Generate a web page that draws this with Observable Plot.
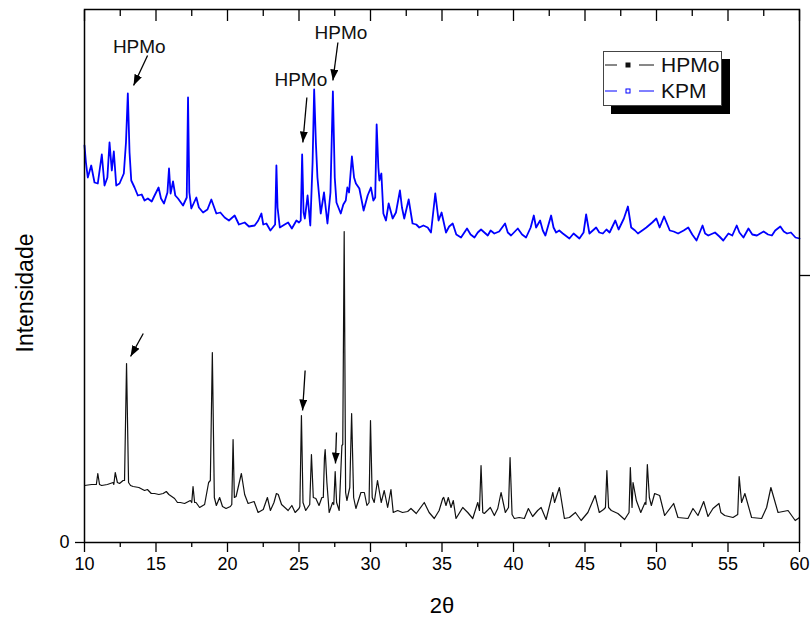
<!DOCTYPE html>
<html><head><meta charset="utf-8">
<script src="https://cdn.jsdelivr.net/npm/d3@7"></script>
<script src="https://cdn.jsdelivr.net/npm/@observablehq/plot@0.6"></script>
<style>
html,body{margin:0;padding:0;background:#fff;}
#wrap{position:relative;width:810px;height:622px;font-family:"Liberation Sans",Arial,sans-serif;}
#legend{position:absolute;left:603px;top:51px;width:119px;height:55px;border:1px solid #444;background:#fff;box-shadow:8px 8px 0 #000;box-sizing:border-box;}
.row{position:absolute;left:0;height:26px;display:flex;align-items:center;font-size:21px;color:#111;white-space:nowrap;}
.row svg{margin-right:2px;}
</style></head>
<body><div id="wrap"><div id="chart"></div><div id="legend"></div></div>
<script>
// ---- data (2θ in degrees, intensity in arbitrary units) ----
const hpmoX = [10.0,10.5,10.83,10.93,11.05,11.2,11.6,12.0,12.05,12.15,12.3,12.45,12.7,12.8,12.94,13.08,13.22,13.4,13.8,14.2,14.4,14.67,14.9,15.2,15.5,15.72,15.9,16.1,16.3,16.5,16.7,17.0,17.4,17.5,17.59,17.7,17.8,18.05,18.4,18.68,18.8,18.94,19.08,19.22,19.45,19.65,19.9,20.2,20.3,20.39,20.48,20.6,20.97,21.2,21.44,21.86,22.14,22.5,22.79,23.0,23.25,23.42,23.55,23.78,24.24,24.5,24.73,25.0,25.06,25.17,25.28,25.47,25.75,25.87,26.0,26.18,26.4,26.6,26.7,26.78,26.83,26.95,27.11,27.35,27.43,27.53,27.63,27.81,28.0,28.06,28.16,28.26,28.35,28.55,28.68,28.82,28.98,29.33,29.57,29.75,29.9,30.0,30.12,30.26,30.49,30.75,30.96,31.2,31.43,31.59,31.9,32.24,32.6,32.83,33.2,33.76,34.1,34.46,34.8,35.05,35.12,35.28,35.44,35.63,35.79,35.98,36.45,36.8,37.15,37.5,37.62,37.73,37.85,37.96,38.38,38.66,38.9,39.13,39.43,39.65,39.76,39.9,40.06,40.4,40.76,41.04,41.34,41.69,41.93,42.28,42.75,42.87,43.21,43.56,43.91,44.33,44.73,45.2,45.71,46.0,46.3,46.43,46.53,46.65,46.84,47.3,47.77,48.08,48.17,48.29,48.36,48.59,48.9,49.2,49.26,49.36,49.5,49.64,49.87,50.22,50.57,51.2,51.5,52.2,52.55,52.9,53.3,53.6,53.95,54.37,54.5,54.77,55.35,55.68,55.78,55.95,56.18,56.65,57.35,57.7,58.0,58.2,58.5,59.2,59.7,60.0];
const hpmoY = [57,58,58,69,58,57,58,60,58,70,60,59,62,62,179,60,57,56,55,52,53,49,49,48,49,51,48,46,44,40,40,39,42,40,56,40,40,35,38,60,62,190,45,37,45,36,34,36,38,103,45,46,69,48,39,41,30,33,45,32,40,49,48,38,32,37,30,34,36,127,40,32,38,88,45,44,37,45,45,85,93,60,30,40,38,71,40,32,97,98,311,50,42,55,129,45,34,50,50,37,40,122,45,40,62,40,52,35,53,30,32,30,31,34,29,40,30,24,32,44,45,37,45,35,42,24,35,30,24,40,32,77,30,29,35,27,34,50,30,35,85,28,24,25,24,34,26,32,35,23,50,40,55,24,25,30,22,30,47,30,33,35,72,35,32,29,23,30,75,35,60,42,30,40,38,78,45,37,49,47,27,39,25,24,34,27,41,26,34,39,30,27,25,28,66,40,49,25,24,35,55,45,30,32,22,25];

const kpmX = [10.0,10.1,10.23,10.47,10.7,10.93,11.21,11.4,11.6,11.75,11.91,12.05,12.22,12.45,12.75,12.9,13.03,13.15,13.27,13.5,13.73,14.0,14.2,14.43,14.7,14.9,15.18,15.35,15.56,15.8,15.91,16.02,16.19,16.35,16.54,16.89,17.15,17.24,17.33,17.47,17.82,18.0,18.29,18.6,18.87,19.22,19.5,19.8,20.1,20.5,20.8,21.2,21.5,21.9,22.15,22.37,22.5,22.72,23.0,23.33,23.42,23.5,23.66,24.0,24.24,24.5,24.82,25.0,25.12,25.22,25.32,25.41,25.6,25.79,25.95,26.06,26.18,26.29,26.52,26.75,26.99,27.2,27.37,27.5,27.62,27.92,28.1,28.27,28.38,28.5,28.7,28.85,28.98,29.22,29.52,29.8,30.03,30.2,30.33,30.43,30.55,30.62,30.76,30.9,31.08,31.27,31.55,31.78,32.06,32.2,32.36,32.67,32.94,33.2,33.41,33.7,34.0,34.23,34.53,34.76,34.97,35.28,35.5,35.75,36.0,36.33,36.75,37.0,37.27,37.5,37.73,38.2,38.4,38.66,39.0,39.41,39.6,39.83,40.3,40.6,40.88,41.2,41.42,41.58,41.86,42.05,42.23,42.63,42.8,42.98,43.2,43.45,43.91,44.2,44.61,44.9,45.08,45.31,45.78,46.0,46.25,46.5,46.72,47.12,47.35,47.72,48.0,48.23,48.5,48.7,49.0,49.29,49.7,49.99,50.22,50.53,50.93,51.2,51.51,51.9,52.22,52.5,52.8,53.22,53.4,53.62,54.09,54.4,54.67,55.03,55.3,55.61,55.8,56.08,56.43,56.7,57.02,57.49,57.8,58.07,58.3,58.66,58.9,59.13,59.4,59.72,60.0];
const kpmY = [397,380,365,377,360,359,388,357,365,400,372,391,357,359,369,400,449,390,362,355,347,348,342,344,341,347,355,344,339,350,374,349,361,347,344,337,345,445,350,334,345,335,330,333,343,329,330,325,322,327,318,320,316,317,322,329,318,319,312,318,377,335,315,318,320,314,322,320,322,388,330,324,347,317,380,453,400,365,329,350,319,350,451,365,340,329,338,342,355,350,386,365,359,354,332,347,355,342,345,418,375,362,369,329,322,339,324,330,352,335,324,343,319,318,315,317,315,310,349,322,330,310,316,319,308,305,314,308,305,310,313,307,312,309,311,319,310,307,314,308,305,315,327,315,322,312,307,327,315,310,312,309,304,309,304,310,328,309,315,310,309,313,310,322,313,324,336,315,312,309,312,315,320,324,315,326,312,311,309,312,315,308,302,317,309,307,310,306,302,309,307,317,310,305,314,308,307,311,308,307,312,316,311,309,310,305,304];

const seriesNames = ["HPMo","KPM"];
const seriesColors = ["#111111","#0000ff"];

const majorTicks = [10,15,20,25,30,35,40,45,50,55,60];
const minorTicks = [12.5,17.5,22.5,27.5,32.5,37.5,42.5,47.5,52.5,57.5];
const leftTicks = [0];
const rightTicks = [267];

// annotation labels and arrows (data coordinates)
const annLabel = ["HPMo","HPMo","HPMo"];
const annX = [13.83,27.93,25.13];
const annY = [496,510,463];
const arrX1 = [14.41,27.72,25.55,14.11,25.43,27.62];
const arrY1 = [487,500,445,209,172,110];
const arrX2 = [13.43,27.37,25.27,13.22,25.25,27.55];
const arrY2 = [457,462,400,186,132,79];

// ---- build ----
const hpmo = hpmoX.map((x,i)=>({x, y:hpmoY[i]}));
const kpm = kpmX.map((x,i)=>({x, y:kpmY[i]}));
const annotations = annLabel.map((t,i)=>({t, x:annX[i], y:annY[i]}));
const arrows = arrX1.map((x1,i)=>({x1, y1:arrY1[i], x2:arrX2[i], y2:arrY2[i]}));

const plot = Plot.plot({
  width:810, height:622,
  marginLeft:84, marginRight:11, marginTop:9, marginBottom:80,
  style:{fontFamily:"'Liberation Sans', Arial, sans-serif", fontSize:"18px", color:"#000"},
  x:{domain:[10,60]},
  y:{domain:[0,533]},
  marks:[
    Plot.line(kpm,{x:"x",y:"y",stroke:seriesColors[1],strokeWidth:1.8}),
    Plot.line(hpmo,{x:"x",y:"y",stroke:seriesColors[0],strokeWidth:1.2}),
    Plot.frame({stroke:"#000", strokeWidth:1.5}),
    Plot.axisX({ticks:majorTicks, tickSize:10, tickPadding:5, fontSize:18, label:null, strokeWidth:1.3}),
    Plot.axisX({ticks:minorTicks, tickSize:5, tickFormat:()=>"", label:null, strokeWidth:1.3}),
    Plot.axisX({anchor:"top", ticks:majorTicks, tickSize:-11, tickFormat:()=>"", label:null, strokeWidth:1.3}),
    Plot.axisX({anchor:"top", ticks:minorTicks, tickSize:-6, tickFormat:()=>"", label:null, strokeWidth:1.3}),
    Plot.axisY({ticks:leftTicks, tickSize:9, tickPadding:6, fontSize:18, label:null, strokeWidth:1.3}),
    Plot.axisY({anchor:"right", ticks:rightTicks, tickSize:10, tickFormat:()=>"", label:null, strokeWidth:1.3}),
    Plot.text(["2θ"], {text:d=>d, frameAnchor:"bottom", dy:70, fontSize:22}),
    Plot.text(["Intensidade"], {text:d=>d, frameAnchor:"left", textAnchor:"middle", rotate:-90, dx:-59, dy:17, fontSize:23}),
    Plot.text(annotations,{x:"x",y:"y",text:"t",fontSize:19, fill:"#111"}),
    Plot.link(arrows,{x1:"x1",y1:"y1",x2:"x2",y2:"y2",stroke:"#000",strokeWidth:1.3})
  ]
});

const svg = plot.tagName.toLowerCase()==="svg" ? plot : plot.querySelector("svg");
const ns = "http://www.w3.org/2000/svg";
const defs = document.createElementNS(ns,"defs");
defs.innerHTML = '<marker id="ahead" viewBox="0 0 11 8" refX="11" refY="4" markerWidth="11" markerHeight="8" markerUnits="userSpaceOnUse" orient="auto"><path d="M0,0L11,4L0,8Z" fill="#000"/></marker>';
svg.appendChild(defs);
svg.querySelectorAll('g[aria-label="link"] path').forEach(p=>p.setAttribute("marker-end","url(#ahead)"));
document.getElementById("chart").appendChild(plot);

// legend (overlay inside the plot frame)
const legend = document.getElementById("legend");
seriesNames.forEach((name,i)=>{
  const row = document.createElement("div");
  row.className = "row";
  row.style.top = (i*26) + "px";
  const c = seriesColors[i];
  const fill = i===0 ? c : "#fff";
  row.innerHTML = `<svg width="55" height="12"><line x1="1" y1="6" x2="13" y2="6" stroke="${c}" stroke-width="1"/><rect x="22" y="4" width="4" height="4" fill="${fill}" stroke="${c}" stroke-width="1"/><line x1="35" y1="6" x2="50" y2="6" stroke="${c}" stroke-width="1"/></svg><span>${name}</span>`;
  legend.appendChild(row);
});
</script>
</body></html>
